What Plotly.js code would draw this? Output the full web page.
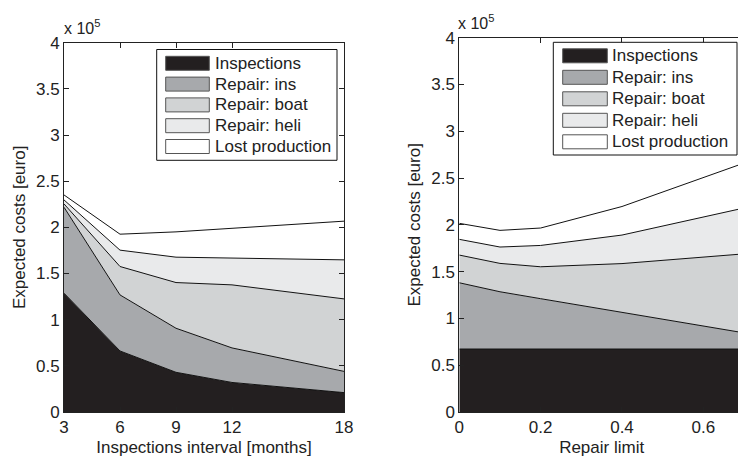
<!DOCTYPE html>
<html><head><meta charset="utf-8">
<script src="https://cdn.plot.ly/plotly-3.0.1.min.js"></script>
<style>html,body{margin:0;padding:0;overflow:hidden;background:#fff;} #chart{width:744px;height:457px;}</style>
</head><body><div id="chart"></div>
<script>
// Series (stack order bottom -> top)
const seriesNames = ['Inspections', 'Repair: ins', 'Repair: boat', 'Repair: heli', 'Lost production'];
const seriesColors = ['#231f20', '#a7a9ac', '#d1d3d4', '#e9eaeb', '#ffffff'];

// Left panel: inspection interval [months]; expected costs in units of 1e5 euro
const intervalMonths = [3, 6, 9, 12, 18];
const intervalInspections = [1.287, 0.661, 0.430, 0.320, 0.210];
const intervalRepairIns   = [0.931, 0.607, 0.477, 0.374, 0.230];
const intervalRepairBoat  = [0.036, 0.308, 0.495, 0.683, 0.785];
const intervalRepairHeli  = [0.043, 0.177, 0.275, 0.289, 0.423];
const intervalLostProd    = [0.054, 0.173, 0.274, 0.321, 0.419];

// Right panel: repair limit; expected costs in units of 1e5 euro
const repairLimit      = [0, 0.1, 0.2, 0.4, 0.7];
const limitInspections = [0.673, 0.673, 0.673, 0.673, 0.673];
const limitRepairIns   = [0.708, 0.612, 0.538, 0.392, 0.173];
const limitRepairBoat  = [0.296, 0.303, 0.341, 0.521, 0.844];
const limitRepairHeli  = [0.168, 0.175, 0.228, 0.305, 0.490];
const limitLostProd    = [0.171, 0.178, 0.186, 0.305, 0.480];

const leftTickVals  = [3, 6, 9, 12, 18];
const rightTickVals = [0, 0.2, 0.4, 0.6];
const yTickVals     = [0, 0.5, 1, 1.5, 2, 2.5, 3, 3.5, 4];
const yTickText     = ['0', '0.5', '1', '1.5', '2', '2.5', '3', '3.5', '4'];

const W = 744, H = 457, MB = 45, PH = H - MB;
const FONT = 'Liberation Sans, Arial, Helvetica, sans-serif';
const px = x => x / W;
const py = y => (PH - y) / PH;

const leftSeries  = [intervalInspections, intervalRepairIns, intervalRepairBoat, intervalRepairHeli, intervalLostProd];
const rightSeries = [limitInspections, limitRepairIns, limitRepairBoat, limitRepairHeli, limitLostProd];

const traces = [];
leftSeries.forEach((ys, i) => traces.push({
  type: 'scatter', mode: 'lines', x: intervalMonths, y: ys, name: seriesNames[i],
  stackgroup: 'left', fillcolor: seriesColors[i], line: {color: '#111', width: 1},
  xaxis: 'x', yaxis: 'y', showlegend: false
}));
rightSeries.forEach((ys, i) => traces.push({
  type: 'scatter', mode: 'lines', x: repairLimit, y: ys, name: seriesNames[i],
  stackgroup: 'right', fillcolor: seriesColors[i], line: {color: '#111', width: 1},
  xaxis: 'x2', yaxis: 'y2', showlegend: false
}));

const axisCommon = {
  showline: true, linecolor: '#222', linewidth: 1, mirror: 'ticks',
  ticks: 'inside', ticklen: 5, tickcolor: '#222', showgrid: false, zeroline: false,
  tickfont: {family: FONT, size: 17, color: '#222'}, automargin: false, fixedrange: true
};

const shapes = [], annotations = [];
function addLegend(box, swX0, swX1, cy0, dy, textX) {
  shapes.push({type: 'rect', xref: 'paper', yref: 'paper', x0: px(box[0]), x1: px(box[2]), y0: py(box[3]), y1: py(box[1]),
    line: {color: '#111', width: 1}, fillcolor: '#fff', layer: 'above'});
  seriesNames.forEach((n, i) => {
    const cy = cy0 + i * dy;
    shapes.push({type: 'rect', xref: 'paper', yref: 'paper', x0: px(swX0), x1: px(swX1), y0: py(cy + 7), y1: py(cy - 7),
      line: {color: '#555', width: 1}, fillcolor: seriesColors[i], layer: 'above'});
    annotations.push({xref: 'paper', yref: 'paper', x: px(textX), y: py(cy), xanchor: 'left', yanchor: 'middle',
      text: n, showarrow: false, font: {family: FONT, size: 17, color: '#222'}, borderpad: 0});
  });
}
addLegend([156.7, 49.5, 337, 160.3], 165.7, 209.3, 63.3, 20.8, 214);
addLegend([553.3, 42.3, 737, 155], 562.7, 607.3, 55.8, 21.5, 611);

annotations.push({xref: 'paper', yref: 'paper', x: px(63), y: py(38), xanchor: 'left', yanchor: 'bottom',
  text: 'x 10<sup>5</sup>', showarrow: false, font: {family: FONT, size: 16, color: '#222'}, borderpad: 0});
annotations.push({xref: 'paper', yref: 'paper', x: px(457), y: py(33), xanchor: 'left', yanchor: 'bottom',
  text: 'x 10<sup>5</sup>', showarrow: false, font: {family: FONT, size: 16, color: '#222'}, borderpad: 0});

const layout = {
  width: W, height: H, margin: {l: 0, r: 0, t: 0, b: MB, pad: 0},
  paper_bgcolor: '#fff', plot_bgcolor: '#fff', showlegend: false,
  font: {family: FONT, size: 17, color: '#222'},
  xaxis: Object.assign({}, axisCommon, {domain: [px(64), px(344)], range: [3, 18], tickvals: leftTickVals,
    anchor: 'y', title: {text: 'Inspections interval [months]', font: {family: FONT, size: 17, color: '#222'}, standoff: 4}}),
  yaxis: Object.assign({}, axisCommon, {domain: [0, (PH - 42.7) / PH], range: [0, 4], tickvals: yTickVals, ticktext: yTickText,
    anchor: 'x', title: {text: 'Expected costs [euro]', font: {family: FONT, size: 17, color: '#222'}, standoff: 6}}),
  xaxis2: Object.assign({}, axisCommon, {domain: [px(459.3), 1], range: [0, 0.7], tickvals: rightTickVals,
    anchor: 'y2', title: {text: 'Repair limit', font: {family: FONT, size: 17, color: '#222'}, standoff: 4}}),
  yaxis2: Object.assign({}, axisCommon, {domain: [0, (PH - 37.7) / PH], range: [0, 4], tickvals: yTickVals, ticktext: yTickText,
    anchor: 'x2', title: {text: 'Expected costs [euro]', font: {family: FONT, size: 17, color: '#222'}, standoff: 6}}),
  shapes: shapes, annotations: annotations
};

Plotly.newPlot('chart', traces, layout, {displayModeBar: false, staticPlot: true});
</script>
</body></html>
